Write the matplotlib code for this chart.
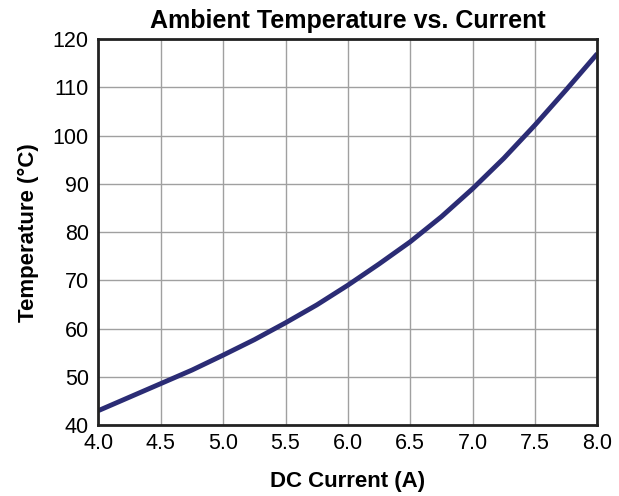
import numpy as np
import matplotlib.pyplot as plt

plt.rcParams['font.family'] = ['Liberation Sans', 'DejaVu Sans']

current = [4.0, 4.25, 4.5, 4.75, 5.0, 5.25, 5.5, 5.75, 6.0, 6.25, 6.5, 6.75, 7.0, 7.25, 7.5, 7.75, 8.0]
temp = [43.0, 45.8, 48.6, 51.4, 54.5, 57.7, 61.2, 64.9, 69.0, 73.4, 78.0, 83.2, 89.0, 95.3, 102.2, 109.5, 117.0]

fig = plt.figure(figsize=(6.19, 4.96), dpi=100)
ax = fig.add_axes([0.159, 0.143, 0.806, 0.778])

ax.plot(current, temp, color='#2b2c75', linewidth=3.5, solid_capstyle='butt')

ax.set_xlim(4.0, 8.0)
ax.set_ylim(40, 120)
ax.set_xticks(np.arange(4.0, 8.01, 0.5))
ax.set_xticklabels(['%.1f' % v for v in np.arange(4.0, 8.01, 0.5)])
ax.set_yticks(range(40, 121, 10))
ax.grid(True, color='#a0a0a0', linewidth=1.0)
ax.set_axisbelow(True)
ax.tick_params(length=0, labelsize=15.5)
ax.tick_params(axis='x', pad=6)
ax.tick_params(axis='y', pad=7)
for s in ax.spines.values():
    s.set_linewidth(2)
    s.set_color('#222222')

ax.set_title('Ambient Temperature vs. Current', fontsize=18, fontweight='bold', pad=8)
ax.set_xlabel('DC Current (A)', fontsize=16, fontweight='bold', labelpad=12)
ax.set_ylabel('Temperature (°C)', fontsize=16, fontweight='bold', labelpad=10)

fig.savefig('out.png', dpi=100)
